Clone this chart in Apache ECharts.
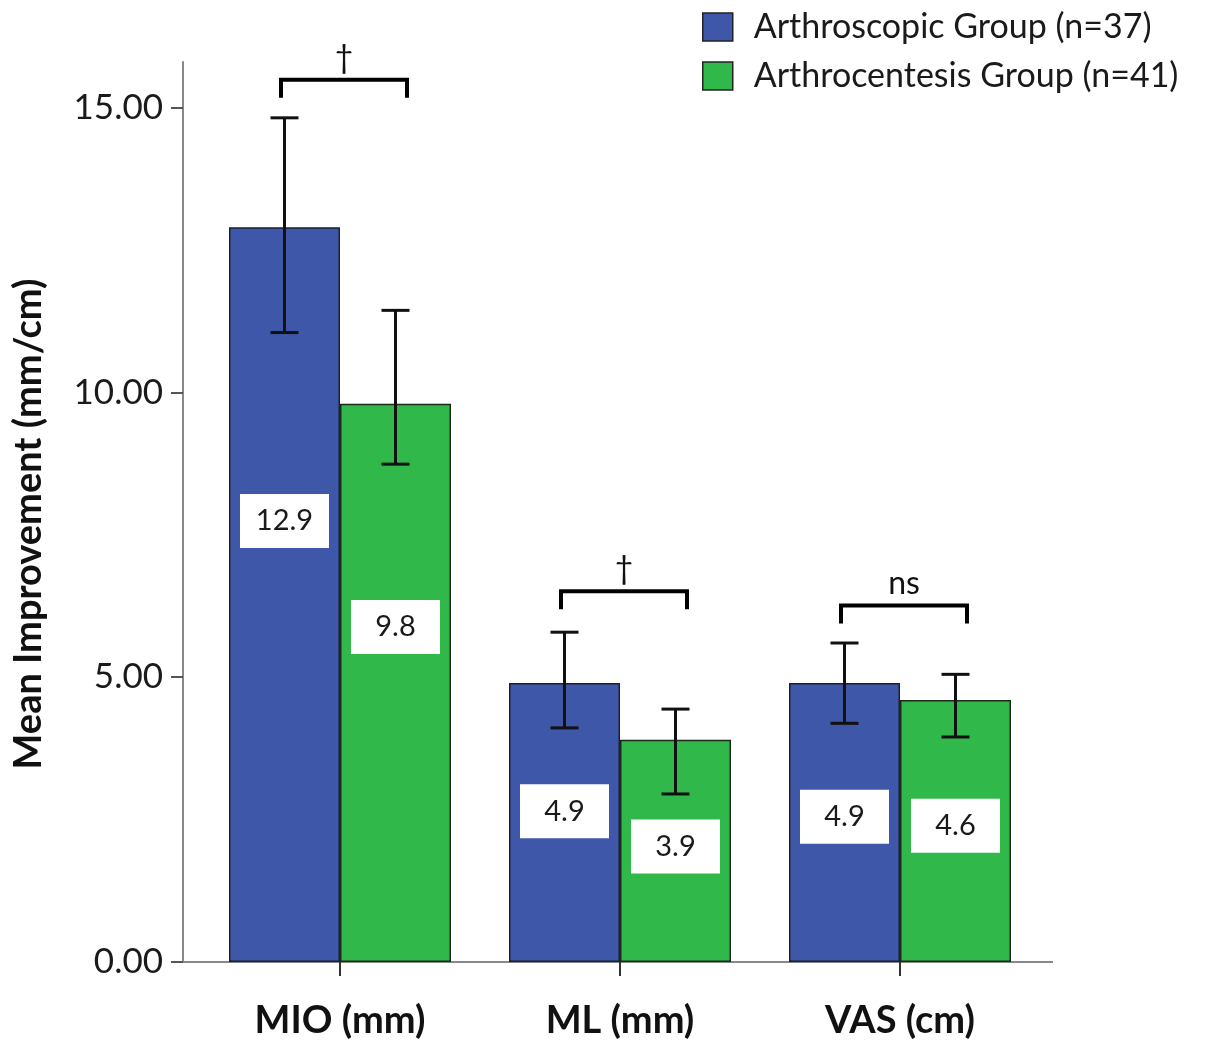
<!DOCTYPE html>
<html>
<head>
<meta charset="utf-8">
<style>
  html, body { margin: 0; padding: 0; background: #ffffff; }
  #chart { width: 1225px; height: 1040px; }
</style>
<script src="https://cdn.jsdelivr.net/npm/echarts@6/dist/echarts.min.js"></script>
</head>
<body>
<div id="chart"></div>
<script>
// Outcome measures and group means
const categories = ['MIO (mm)', 'ML (mm)', 'VAS (cm)'];
const arthroscopicMean = [12.9, 4.9, 4.9];
const arthrocentesisMean = [9.8, 3.9, 4.6];

// Error bar limits (lower / upper)
const arthroscopicLow = [11.05, 4.11, 4.19];
const arthroscopicHigh = [14.82, 5.79, 5.60];
const arthrocentesisLow = [8.74, 2.95, 3.95];
const arthrocentesisHigh = [11.44, 4.44, 5.05];

// Between-group comparison markers and bracket heights
const sigMarks = ['\u2020', '\u2020', 'ns'];
const sigLevels = [15.49, 6.51, 6.26];

// Y axis ticks
const yTicks = [0, 5, 10, 15];

const seriesNames = ['Arthroscopic Group (n=37)', 'Arthrocentesis Group (n=41)'];
const COLORS = ['#3f57a9', '#31b84a'];
const FONT = 'Lato';
const GRID = { left: 200, width: 840, top: 62, height: 900 };
const BAR_WIDTH = 111;
const CAP = 28;

// vertical anchor of the value boxes inside each bar (fraction from bar top)
const blueLabelAnchor = ['40%', '46%', '48%'];
const greenLabelAnchor = ['40%', '48%', '48%'];

const valueLabel = {
  show: true,
  align: 'center',
  verticalAlign: 'middle',
  backgroundColor: '#ffffff',
  width: 89,
  height: 54,
  lineHeight: 54,
  fontFamily: FONT,
  fontSize: 29,
  color: '#1a1a1a',
  formatter: p => p.value.toFixed(1)
};

function barData(values, anchors) {
  return values.map((v, i) => ({ value: v, label: { position: ['50%', anchors[i]] } }));
}

function errorData(low, high) {
  return low.map((l, i) => [i, l, high[i]]);
}

function errorRenderer(sign) {
  return function (params, api) {
    const cat = api.value(0);
    const lo = api.coord([cat, api.value(1)]);
    const hi = api.coord([cat, api.value(2)]);
    const x = lo[0] + sign * BAR_WIDTH / 2;
    const style = { stroke: '#111111', lineWidth: 3 };
    return {
      type: 'group',
      children: [
        { type: 'line', shape: { x1: x, y1: lo[1], x2: x, y2: hi[1] }, style },
        { type: 'line', shape: { x1: x - CAP / 2, y1: hi[1], x2: x + CAP / 2, y2: hi[1] }, style },
        { type: 'line', shape: { x1: x - CAP / 2, y1: lo[1], x2: x + CAP / 2, y2: lo[1] }, style }
      ]
    };
  };
}

function bracketRenderer(params, api) {
  const cat = api.value(0);
  const p = api.coord([cat, api.value(1)]);
  const cx = p[0] + 4;
  const half = 63;
  const drop = 18;
  return {
    type: 'group',
    children: [
      {
        type: 'polyline',
        shape: { points: [[cx - half, p[1] + drop], [cx - half, p[1]], [cx + half, p[1]], [cx + half, p[1] + drop]] },
        style: { stroke: '#000000', lineWidth: 4, fill: null, lineJoin: 'miter' }
      },
      {
        type: 'text',
        x: cx,
        y: p[1] - 22,
        style: {
          text: sigMarks[params.dataIndex],
          fontFamily: FONT,
          fontSize: 32,
          fill: '#111111',
          align: 'center',
          verticalAlign: 'middle'
        }
      }
    ]
  };
}

const chart = echarts.init(document.getElementById('chart'), null, { renderer: 'canvas' });

chart.setOption({
  animation: false,
  backgroundColor: '#ffffff',
  legend: {
    orient: 'vertical',
    left: 697,
    top: 5,
    icon: 'rect',
    itemWidth: 30,
    itemHeight: 28,
    itemGap: 15,
    data: seriesNames,
    itemStyle: { borderColor: '#222222', borderWidth: 1.5 },
    textStyle: {
      fontFamily: FONT,
      fontSize: 34,
      color: '#1a1a1a',
      lineHeight: 28,
      padding: [0, 0, 0, 16]
    }
  },
  grid: {
    left: GRID.left,
    width: GRID.width,
    top: GRID.top,
    height: GRID.height,
    containLabel: false,
    outerBoundsMode: 'none'
  },
  xAxis: {
    type: 'category',
    data: categories,
    boundaryGap: true,
    axisLine: { show: false },
    axisTick: { show: true, alignWithLabel: true, length: 14, lineStyle: { color: '#333333', width: 2 } },
    axisLabel: { margin: 40, fontFamily: FONT, fontSize: 38, fontWeight: 'bold', color: '#111111' },
    splitLine: { show: false }
  },
  yAxis: {
    type: 'value',
    min: 0,
    max: 15.8,
    interval: 5,
    offset: 17,
    name: 'Mean Improvement (mm/cm)',
    nameLocation: 'middle',
    nameRotate: 90,
    nameGap: 135,
    nameTextStyle: { fontFamily: FONT, fontSize: 38, fontWeight: 'bold', color: '#111111', padding: [0, 24, 0, 0] },
    axisLine: { show: true, lineStyle: { color: '#888888', width: 2 } },
    axisTick: { show: true, inside: false, length: 12, customValues: yTicks, lineStyle: { color: '#555555', width: 2 } },
    axisLabel: {
      customValues: yTicks,
      margin: 20,
      fontFamily: FONT,
      fontSize: 35,
      color: '#1a1a1a',
      formatter: v => v.toFixed(2)
    },
    splitLine: { show: false }
  },
  graphic: [
    {
      type: 'line',
      z: 0,
      shape: { x1: GRID.left - 17, y1: GRID.top + GRID.height, x2: GRID.left + GRID.width + 13, y2: GRID.top + GRID.height },
      style: { stroke: '#888888', lineWidth: 2 }
    }
  ],
  series: [
    {
      name: seriesNames[0],
      type: 'bar',
      barWidth: BAR_WIDTH,
      barGap: '0%',
      data: barData(arthroscopicMean, blueLabelAnchor),
      itemStyle: { color: COLORS[0], borderColor: '#1b1f33', borderWidth: 1.5 },
      label: valueLabel,
      z: 2
    },
    {
      name: seriesNames[1],
      type: 'bar',
      barWidth: BAR_WIDTH,
      barGap: '0%',
      data: barData(arthrocentesisMean, greenLabelAnchor),
      itemStyle: { color: COLORS[1], borderColor: '#1b2a1d', borderWidth: 1.5 },
      label: valueLabel,
      z: 2
    },
    {
      type: 'custom',
      renderItem: errorRenderer(-1),
      data: errorData(arthroscopicLow, arthroscopicHigh),
      encode: { x: 0, y: [1, 2] },
      z: 5,
      silent: true
    },
    {
      type: 'custom',
      renderItem: errorRenderer(1),
      data: errorData(arthrocentesisLow, arthrocentesisHigh),
      encode: { x: 0, y: [1, 2] },
      z: 5,
      silent: true
    },
    {
      type: 'custom',
      renderItem: bracketRenderer,
      data: sigLevels.map((lvl, i) => [i, lvl]),
      encode: { x: 0, y: 1 },
      z: 5,
      silent: true
    }
  ]
});
</script>
</body>
</html>
